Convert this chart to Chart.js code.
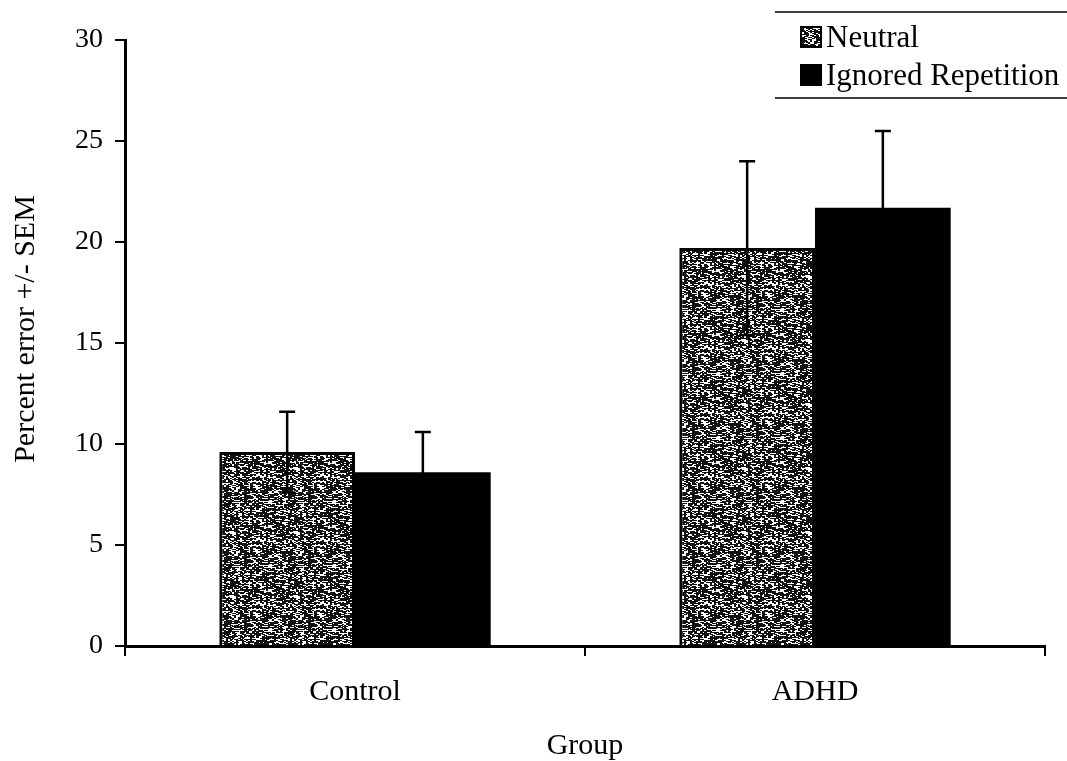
<!DOCTYPE html>
<html>
<head>
<meta charset="utf-8">
<script src="https://cdn.jsdelivr.net/npm/chart.js@4"></script>
<style>
  html, body { margin: 0; padding: 0; background: #fff; }
  #wrap { width: 1067px; height: 761px; }
</style>
</head>
<body>
<div id="wrap"><canvas id="myChart" width="1067" height="761"></canvas></div>
<script>
// data
var groups = ["Control", "ADHD"];
var seriesNames = ["Neutral", "Ignored Repetition"];
var neutral = [9.6, 19.7];
var neutralSem = [2.0, 4.3];
var ignored = [8.6, 21.7];
var ignoredSem = [2.0, 3.8];
var yTicks = [0, 5, 10, 15, 20, 25, 30];
var yTitle = "Percent error +/- SEM";

var FONT = "'Liberation Serif', 'DejaVu Serif', serif";

// speckled grey fill for the neutral bars
function makeSpeckle() {
  var c = document.createElement("canvas");
  c.width = 64; c.height = 64;
  var g = c.getContext("2d");
  g.fillStyle = "#fff";
  g.fillRect(0, 0, 64, 64);
  g.fillStyle = "#111";
  for (var y = 0; y < 64; y++) {
    for (var x = 0; x < 64; x += 2) {
      var h = ((x * 73856093) ^ (y * 19349663) ^ ((x + y) * 83492791)) >>> 0;
      h = (h % 1000) / 1000;
      if (h < 0.62) g.fillRect(x, y, h < 0.3 ? 3 : 2, 1);
    }
  }
  return g.createPattern(c, "repeat");
}
var speckle = makeSpeckle();

var errorBars = {
  id: "errorBars",
  afterDatasetsDraw: function (chart) {
    var ctx = chart.ctx;
    var yScale = chart.scales.y;
    var sems = [neutralSem, ignoredSem];
    ctx.save();
    ctx.strokeStyle = "#000";
    ctx.lineWidth = 2.5;
    chart.data.datasets.forEach(function (ds, di) {
      var meta = chart.getDatasetMeta(di);
      meta.data.forEach(function (bar, i) {
        var v = ds.data[i], e = sems[di][i];
        var x = bar.x;
        var top = yScale.getPixelForValue(v + e);
        var bot = yScale.getPixelForValue(v - e);
        ctx.beginPath();
        ctx.moveTo(x, top); ctx.lineTo(x, bot);
        ctx.moveTo(x - 8, top); ctx.lineTo(x + 8, top);
        ctx.moveTo(x - 8, bot); ctx.lineTo(x + 8, bot);
        ctx.stroke();
      });
    });
    ctx.restore();
  }
};

// legend between two rules, and the y title placed a little above centre
var extras = {
  id: "extras",
  afterDraw: function (chart) {
    var ctx = chart.ctx;
    ctx.save();
    ctx.strokeStyle = "#000";
    ctx.lineWidth = 1.5;
    ctx.beginPath();
    ctx.moveTo(775, 12); ctx.lineTo(1067, 12);
    ctx.moveTo(775, 98); ctx.lineTo(1067, 98);
    ctx.stroke();
    ctx.font = "31px " + FONT;
    ctx.textBaseline = "alphabetic";
    var rows = [27, 65];
    chart.data.datasets.forEach(function (ds, i) {
      var y = rows[i];
      ctx.fillStyle = ds.backgroundColor;
      ctx.fillRect(801, y, 20, 20);
      ctx.strokeStyle = "#000";
      ctx.lineWidth = 2;
      ctx.strokeRect(801, y, 20, 20);
      ctx.fillStyle = "#000";
      ctx.fillText(ds.label, 826, y + 20);
    });

    ctx.translate(26, 329);
    ctx.rotate(-Math.PI / 2);
    ctx.font = "30px " + FONT;
    ctx.textAlign = "center";
    ctx.textBaseline = "middle";
    ctx.fillText(yTitle, 0, 0);
    ctx.restore();
  }
};

const data = {
  labels: groups,
  datasets: [
    {
      label: seriesNames[0],
      data: neutral,
      backgroundColor: speckle,
      borderColor: "#000",
      borderWidth: 3,
      borderSkipped: "bottom"
    },
    {
      label: seriesNames[1],
      data: ignored,
      backgroundColor: "#000",
      borderColor: "#000",
      borderWidth: 0
    }
  ]
};

const config = {
  type: "bar",
  data: data,
  options: {
    responsive: false,
    animation: false,
    datasets: { bar: { categoryPercentage: 0.59, barPercentage: 1.0 } },
    layout: { padding: { left: 0, right: 22, top: 40, bottom: 0 } },
    plugins: { legend: { display: false }, tooltip: { enabled: false } },
    scales: {
      x: {
        afterFit: function (s) { s.height = 115; },
        grid: { drawOnChartArea: false, color: "#000", lineWidth: 2, tickLength: 10, offset: true },
        border: { color: "#000", width: 3 },
        ticks: { color: "#000", font: { family: FONT, size: 30 }, padding: 18 },
        title: { display: true, text: "Group", color: "#000", font: { family: FONT, size: 30 }, padding: { top: 0, bottom: -3 } }
      },
      y: {
        min: 0,
        max: 30,
        afterFit: function (s) { s.width = 125; },
        afterBuildTicks: function (s) { s.ticks = yTicks.map(function (v) { return { value: v }; }); },
        grid: { drawOnChartArea: false, color: "#000", lineWidth: 2, tickLength: 10 },
        border: { color: "#000", width: 3 },
        ticks: { color: "#000", font: { family: FONT, size: 28 }, padding: 12 },
        title: { display: false }
      }
    }
  },
  plugins: [errorBars, extras]
};

const myChart = new Chart(document.getElementById("myChart"), config);
</script>
</body>
</html>
